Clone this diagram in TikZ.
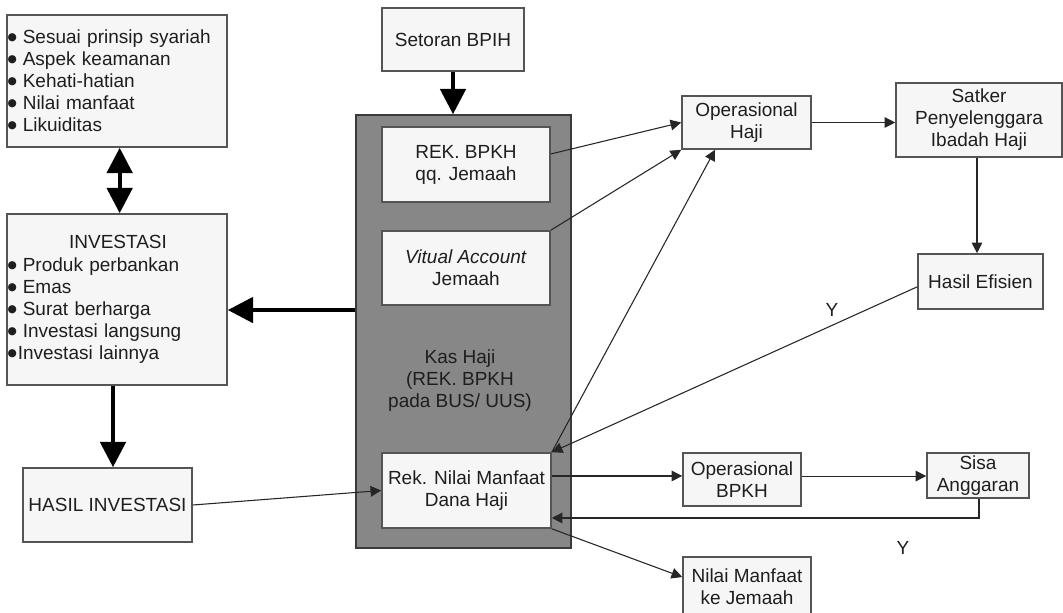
\documentclass[tikz,border=0pt]{standalone}
\usepackage{fontspec}
\setmainfont{Liberation Sans}
\newfontfamily\dvs{DejaVu Sans}
\usetikzlibrary{arrows.meta}
\newdimen\pxu \pxu=0.75pt
\newcommand\bigbul{\raisebox{2.4pt}{\dvs\fontsize{8pt}{8pt}\selectfont ●}}
\definecolor{boxfill}{HTML}{F6F6F6}
\definecolor{boxline}{HTML}{555555}
\definecolor{kasfill}{HTML}{878787}
\definecolor{kasline}{HTML}{3A3A3A}
\definecolor{txt}{HTML}{1E1E1E}
\tikzset{
  x=0.75pt, y=-0.75pt,
  every node/.style={font=\fontsize{14.25pt}{16.5pt}\selectfont, inner sep=0pt, text=txt},
  boxnode/.style={draw=boxline, fill=boxfill, line width=1.2pt, align=center},
  kasbox/.style={draw=kasline, fill=kasfill, line width=1.2pt},
  thin arrow/.style={draw=black!85, line width=0.8pt, -{Triangle[length=8pt,width=8pt]}},
  thick arrow/.style={draw=black, line width=3pt, -{Triangle[length=19pt,width=19pt]}},
  thick both/.style={draw=black, line width=3pt, {Triangle[length=19pt,width=19pt]}-{Triangle[length=19pt,width=19pt]}},
  lbl/.style={font=\fontsize{14.25pt}{16.5pt}\selectfont}
}
\begin{document}
\begin{tikzpicture}
\useasboundingbox (0,0) rectangle (1063,613);
\clip (0,0) rectangle (1063,613);
\fill[white] (0,0) rectangle (1063,613);

% left column
\node[boxnode, minimum width=220\pxu, minimum height=132\pxu, text width=219\pxu, align=left] (crit) at (117,81)
 {\bigbul\hspace{6\pxu}Sesuai prinsip syariah\\
  \bigbul\hspace{6\pxu}Aspek keamanan\\
  \bigbul\hspace{6\pxu}Kehati-hatian\\
  \bigbul\hspace{6\pxu}Nilai manfaat\\
  \bigbul\hspace{6\pxu}Likuiditas};
\node[boxnode, minimum width=220\pxu, minimum height=171\pxu, text width=219\pxu, align=left] (inv) at (117,299.5)
 {\makebox[\linewidth][c]{\hspace{2\pxu}INVESTASI}\\[1.5\pxu]
  \bigbul\hspace{6\pxu}Produk perbankan\\
  \bigbul\hspace{6\pxu}Emas\\
  \bigbul\hspace{6\pxu}Surat berharga\\
  \bigbul\hspace{6\pxu}Investasi langsung\\
  \bigbul\hspace{1\pxu}Investasi lainnya};
\node[boxnode, minimum width=169\pxu, minimum height=74\pxu] (hasil) at (107.5,505) {HASIL INVESTASI};

% kas haji
\node[kasbox, minimum width=215\pxu, minimum height=433\pxu] (gray) at (463.5,331.5) {};
\node[boxnode, minimum width=142\pxu, minimum height=63\pxu] (setoran) at (453,39.5) {Setoran BPIH};
\node[boxnode, minimum width=168\pxu, minimum height=75\pxu] (rekbpkh) at (466,164.5) {REK. BPKH\\qq. Jemaah};
\node[boxnode, minimum width=168\pxu, minimum height=74\pxu] (va) at (466,268) {\textit{Vitual Account}\\Jemaah};
\node[align=center] (kas) at (460,381) {Kas Haji\\(REK. BPKH\\pada BUS/ UUS)};
\node[boxnode, minimum width=169\pxu, minimum height=75\pxu] (rek) at (466.5,490.5) {Rek. Nilai Manfaat\\Dana Haji};

% right side
\node[boxnode, minimum width=129\pxu, minimum height=53\pxu] (ophaji) at (746.5,122.5) {Operasional\\Haji};
\node[boxnode, minimum width=166\pxu, minimum height=74\pxu] (satker) at (979,120) {Satker\\Penyelenggara\\Ibadah Haji};
\node[boxnode, minimum width=125\pxu, minimum height=55\pxu] (efisien) at (980.5,281.5) {Hasil Efisien};
\node[boxnode, minimum width=118\pxu, minimum height=53\pxu] (opbpkh) at (742,479.5) {Operasional\\BPKH};
\node[boxnode, minimum width=102\pxu, minimum height=45\pxu] (sisa) at (978,475.5) {Sisa\\Anggaran};
\node[boxnode, minimum width=128\pxu, minimum height=59\pxu] (nilai) at (747,586.5) {Nilai Manfaat\\ke Jemaah};

\node[lbl] (y1) at (832,310) {Y};
\node[lbl] (y2) at (903,548) {Y};

% thick connectors
\draw[thick arrow] (setoran.south) -- (setoran.south |- gray.north);
\draw[thick arrow] ([yshift=16.1pt]gray.west) -- ([yshift=16.1pt]gray.west -| inv.east);
\draw[thick both] ([xshift=2pt]crit.south) -- ([xshift=2pt]inv.north);
\draw[thick arrow] ([xshift=-3pt]inv.south) -- ([xshift=-3pt]inv.south |- hasil.north);

% thin connectors
\draw[thin arrow] (hasil.east) -- (rek.west);
\draw[thin arrow] ([yshift=7.9pt]rekbpkh.east) -- (ophaji.west);
\draw[thin arrow] (va.north east) -- (ophaji.south west);
\draw[thin arrow] (rek.north east) -- ([xshift=-23.6pt]ophaji.south);
\draw[thin arrow] (ophaji.east) -- (ophaji.east -| satker.west);
\draw[thin arrow] ([xshift=-1.5pt]satker.south) -- ([xshift=-1.5pt]satker.south |- efisien.north);
\draw[thin arrow] ([yshift=-4pt]efisien.west) -- (rek.north east);
\draw[thin arrow] ([yshift=10.9pt]rek.east) -- ([yshift=10.9pt]rek.east -| opbpkh.west);
\draw[thin arrow] ([yshift=2.6pt]opbpkh.east) -- ([yshift=2.6pt]opbpkh.east -| sisa.west);
\draw[thin arrow] ([xshift=0.75pt]sisa.south) |- ([yshift=-20.6pt]rek.east);
\draw[thin arrow] (rek.south east) -- ([yshift=7.1pt]nilai.west);
\end{tikzpicture}
\end{document}
